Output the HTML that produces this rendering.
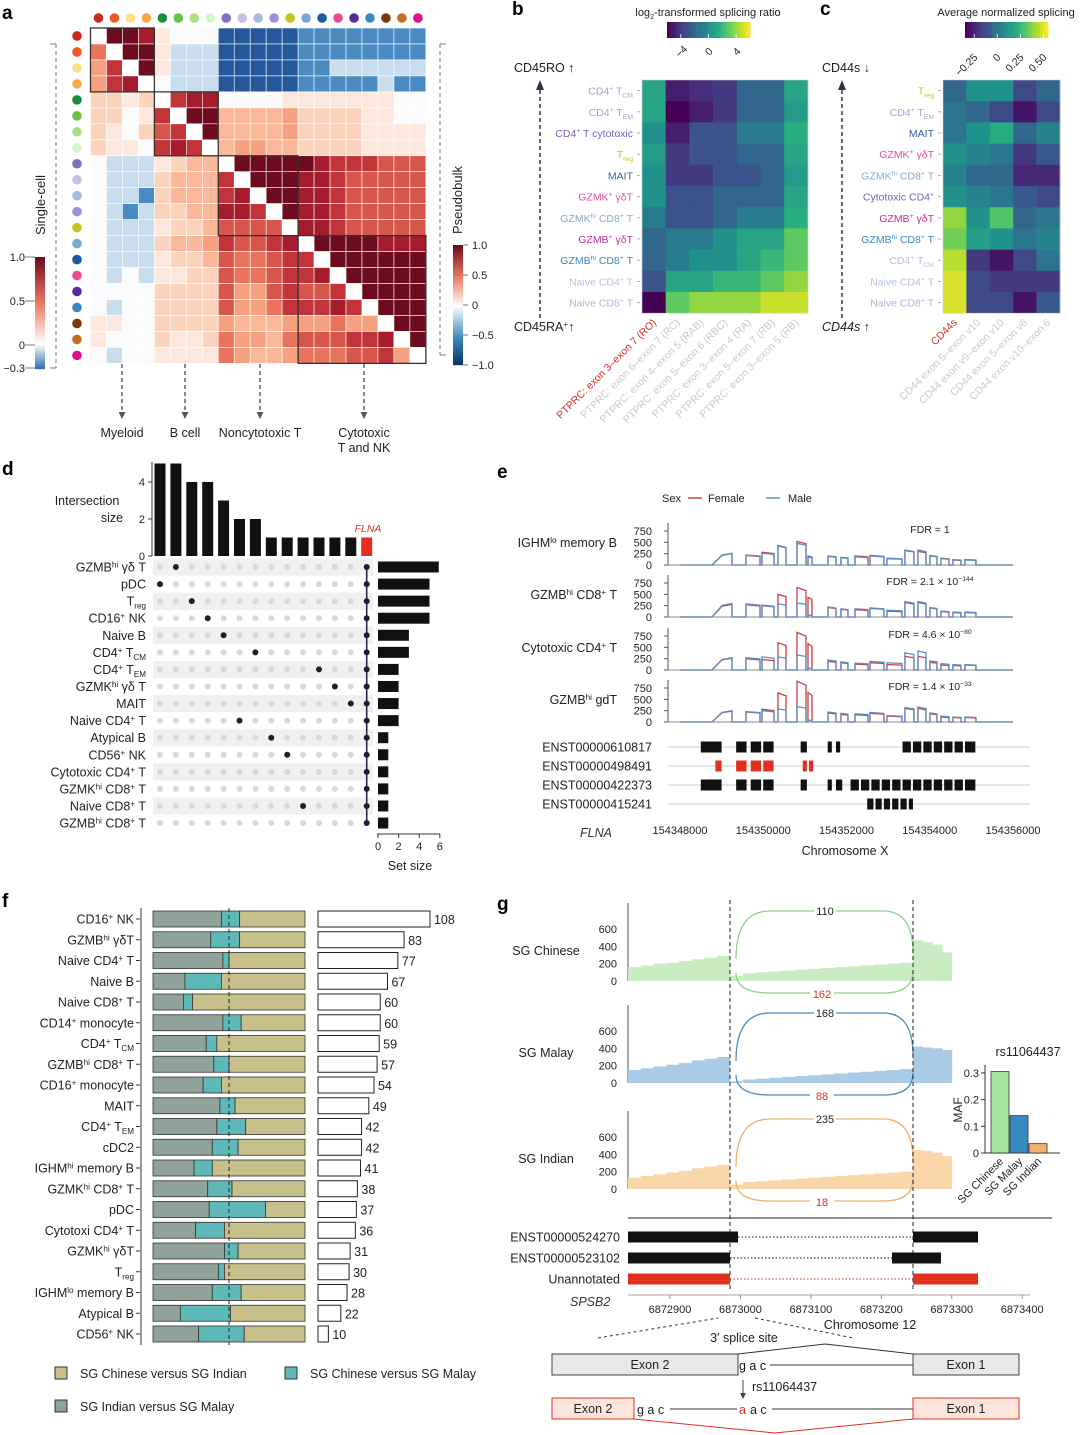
<!DOCTYPE html>
<html><head><meta charset="utf-8">
<style>
html,body{margin:0;padding:0;background:#fff;}
svg{display:block;font-family:"Liberation Sans",sans-serif;}
</style></head>
<body>
<svg id="fig" width="1080" height="1435" viewBox="0 0 1080 1435" xmlns="http://www.w3.org/2000/svg"></svg>
<script>
// ---------------- DATA ----------------
// panel a: correlation matrix (chars: z=-0.3,y=-0.2,x=-0.1,0-9 tenths, W=diagonal)
const aRows = [
"W9981000zzzzzyyyyyyyy",
"5W991xxxzzzzzyyyyyyyy",
"47W91xxxzzzzzyyxxxxxx",
"478W0xxxzzzzzyyyyyxyy",
"2212W7880000111111100",
"22017W993333422221100",
"210267W93333422221111",
"2110787W3443322221111",
"0xxx1233W999998777666",
"0xxx23337W99988766666",
"0xxy233378W9988766666",
"0xyx2233887W988766666",
"0xxx12236666W88766666",
"0xxx233476678W9999888",
"0xxx1223655677W999999",
"0x0x11226556778W99999",
"0000222264467667W9999",
"0x002222644577787W999",
"110022224333444544W99",
"1000211254435666778W9",
"0x001111543345556674W"
];
const aDotColors = ["#c8281e","#f05a22","#fde08a","#fda64a","#1a8a3c","#6cc24a","#a8e08a","#d8f5c8","#8070c0","#c8c0e8","#a8b8e0","#a090d8","#c8c020","#7aa8d0","#1f5aa0","#ec4a90","#5a2a9a","#3a88c0","#7a3a10","#c07020","#e0108a"];
const aGroups = [[0,4],[4,8],[8,13],[13,21]];

// panel b
const bRows = ["CD4^+^ T_CM_","CD4^+^ T_EM_","CD4^+^ T cytotoxic","T_reg_","MAIT","GZMK^+^ γδT","GZMK^hi^ CD8^+^ T","GZMB^+^ γδT","GZMB^hi^ CD8^+^ T","Naive CD4^+^ T","Naive CD8^+^ T"];
const bRowColors = ["#a99fd6","#a99fd6","#7b5cc0","#c8c020","#3a5aa8","#e050a0","#88aad0","#c030a0","#3a88c0","#b8c0e0","#a8b8e0"];
const bCols = ["PTPRC: exon 3–exon 7 (RO)","PTPRC: exon 6–exon 7 (RC)","PTPRC: exon 4–exon 5 (RAB)","PTPRC: exon 5–exon 6 (RBC)","PTPRC: exon 3–exon 4 (RA)","PTPRC: exon 5–exon 7 (RB)","PTPRC: exon 3–exon 5 (RB)"];
const bVals = [
[1,-5,-4.5,-4,-2,-2,1],
[1,-6,-5,-4,-2,-2,0.5],
[0,-5,-3,-3,-1,-1,1.5],
[0.5,-4,-3,-3,-2,-2,1],
[0,-4,-4,-3,-3,-2,0.5],
[0,-3,-3,-2,-2,-2,1],
[-1,-3,-3,-2,-1,-1,1.5],
[-2,-1,-1,0,1,1,3],
[-2,-1,0,0,1,2,3],
[-3,1,1,2,2,3,4],
[-6,3,4,4,4,5,5]];
const bTicks = [-4,0,4];

// panel c
const cRows = ["T_reg_","CD4^+^ T_EM_","MAIT","GZMK^+^ γδT","GZMK^hi^ CD8^+^ T","Cytotoxic CD4^+^","GZMB^+^ γδT","GZMB^hi^ CD8^+^ T","CD4^+^ T_CM_","Naive CD4^+^ T","Naive CD8^+^ T"];
const cRowColors = ["#c8c020","#a99fd6","#3a5aa8","#e050a0","#88aad0","#7b5cc0","#c030a0","#3a88c0","#b8c0e0","#b8c0e0","#a8b8e0"];
const cCols = ["CD44s","CD44 exon 5–exon v10","CD44 exon v9–exon v10","CD44 exon 5–exon v6","CD44 exon v10–exon 6"];
const cVals = [
[-0.05,0.1,0.1,-0.15,-0.05],
[0,-0.05,-0.15,-0.3,-0.15],
[0,0.1,0.2,-0.05,0.05],
[0.1,0.05,0,-0.2,-0.1],
[0.05,-0.05,-0.05,-0.25,-0.25],
[0.1,0.05,0,-0.1,-0.15],
[0.4,0.1,0.3,-0.05,0],
[0.35,0.15,0.1,0,0.05],
[0.45,-0.2,-0.3,-0.15,0],
[0.5,-0.15,-0.2,-0.2,-0.2],
[0.5,-0.15,-0.15,-0.3,-0.1]];
const cTicks = [-0.25,0,0.25,0.5];
const cTickLabels = ["-0.25","0","0.25","0.50"];

// panel d
const dSets = ["GZMB^hi^ γδ T","pDC","T_reg_","CD16^+^ NK","Naive B","CD4^+^ T_CM_","CD4^+^ T_EM_","GZMK^hi^ γδ T","MAIT","Naive CD4^+^ T","Atypical B","CD56^+^ NK","Cytotoxic CD4^+^ T","GZMK^hi^ CD8^+^ T","Naive CD8^+^ T","GZMB^hi^ CD8^+^ T"];
const dSetSize = [5.9,5,5,5,3,3,2,2,2,2,1,1,1,1,1,1];
const dInter = [5,5,4,4,3,2,2,1,1,1,1,1,1,1];
const dInterRow = [1,0,2,3,4,9,5,10,11,14,6,7,8,-1];
const dTicksY = [0,2,4];
const dTicksX = [0,2,4,6];

// panel e
const eExons = [[154348769,154349249],[154349585,154349922],[154349970,154350258],[154350354,154350546],[154350810,154351027],[154351075,154351171],[154351555,154351747],[154351867,154352035],[154352204,154352516],[154352564,154352900],[154352972,154353332],[154353404,154353620],[154353717,154353909],[154354005,154354173],[154354269,154354461],[154354557,154354749],[154354846,154355110]];
const eTracks = ["IGHM^lo^ memory B","GZMB^hi^ CD8^+^ T","Cytotoxic CD4^+^ T","GZMB^hi^ gdT"];
const eFDR = ["FDR = 1","FDR = 2.1 × 10^−144^","FDR = 4.6 × 10^−80^","FDR = 1.4 × 10^−33^"];
const eMale = [
[260,220,260,420,480,200,200,160,180,200,150,330,330,200,140,120,110],
[300,290,250,290,310,40,220,180,180,200,150,340,340,210,130,110,110],
[260,270,290,290,330,40,220,180,150,190,160,380,420,200,140,120,120],
[250,230,250,290,340,40,220,190,180,210,140,320,330,200,130,110,110]];
const eFemale = [
[250,210,280,430,520,180,190,170,200,210,140,320,300,210,150,110,120],
[280,270,260,500,650,430,210,170,160,190,130,320,320,200,120,100,100],
[270,250,230,600,830,580,190,160,130,160,120,300,300,170,110,100,110],
[240,220,280,640,900,650,200,170,160,190,130,300,300,180,110,100,100]];
const eYTicks = [0,250,500,750];
const eXTicks = [154348000,154350000,154352000,154354000,154356000];
const eTx = ["ENST00000610817","ENST00000498491","ENST00000422373","ENST00000415241"];
const eTxBlocks = [
[[0.5,1.0],[1.35,1.6],[1.7,1.95],[2.0,2.25],[2.9,3.05],[3.55,3.65],[3.75,3.85],[5.35,5.55],[5.6,5.8],[5.85,6.05],[6.1,6.3],[6.35,6.55],[6.6,6.8],[6.85,7.1]],
[[0.85,1.0],[1.35,1.6],[1.7,1.95],[2.0,2.25],[2.95,3.05],[3.1,3.2]],
[[0.5,1.0],[1.35,1.6],[1.7,1.95],[2.0,2.25],[2.9,3.05],[3.55,3.65],[3.75,3.9],[4.1,4.3],[4.35,4.55],[4.6,4.8],[4.85,5.05],[5.1,5.3],[5.35,5.55],[5.6,5.8],[5.85,6.05],[6.1,6.3],[6.35,6.55],[6.6,6.8],[6.85,7.1]],
[[4.5,4.65],[4.7,4.85],[4.9,5.05],[5.1,5.25],[5.3,5.45],[5.5,5.6]]];

// panel f
const fCats = ["CD16^+^ NK","GZMB^hi^ γδT","Naive CD4^+^ T","Naive B","Naive CD8^+^ T","CD14^+^ monocyte","CD4^+^ T_CM_","GZMB^hi^ CD8^+^ T","CD16^+^ monocyte","MAIT","CD4^+^ T_EM_","cDC2","IGHM^hi^ memory B","GZMK^hi^ CD8^+^ T","pDC","Cytotoxi CD4^+^ T","GZMK^hi^ γδT","T_reg_","IGHM^lo^ memory B","Atypical B","CD56^+^ NK"];
const fIndMal = [0.45,0.38,0.46,0.21,0.2,0.46,0.35,0.4,0.33,0.44,0.42,0.39,0.27,0.36,0.37,0.28,0.47,0.43,0.39,0.18,0.3];
const fChiMal = [0.12,0.19,0.04,0.24,0.06,0.12,0.07,0.1,0.12,0.1,0.19,0.17,0.12,0.16,0.37,0.19,0.09,0.04,0.19,0.33,0.3];
const fCounts = [108,83,77,67,60,60,59,57,54,49,42,42,41,38,37,36,31,30,28,22,10];

// panel g
const gPops = ["SG Chinese","SG Malay","SG Indian"];
const gPre = [[160,180,200,210,230,250,270,290],[150,170,190,210,230,260,280,300],[130,150,170,190,210,240,260,280]];
const gMid = [[60,90,100,110,120,130,140,150,160,170,180,190,200,210],[20,40,50,60,70,80,90,100,110,120,130,140,150,160],[50,80,90,100,110,120,130,140,150,160,170,180,190,200]];
const gPost = [[470,450,420,330],[420,410,400,380],[450,440,420,380]];
const gArcTop = [110,168,235];
const gArcBot = [162,88,18];
const gYTicks = [0,200,400,600];
const gMAF = [0.305,0.14,0.035];
const gMAFTicks = [0,0.1,0.2,0.3];
const gXTicks = [6872900,6873000,6873100,6873200,6873300,6873400];

// ---------------- HELPERS ----------------
const svg = document.getElementById('fig');
const NS = 'http://www.w3.org/2000/svg';
function mk(tag, attrs, name, parent){
  const el = document.createElementNS(NS, tag);
  for (const k in attrs) el.setAttribute(k, attrs[k]);
  
  
  (parent||svg).appendChild(el);
  return el;
}
function rich(s){
  let out='',cur=0;
  s.split(/(\^[^\^]*\^|_[^_]*_)/).forEach(seg=>{
    if(!seg) return;
    let t=0,fs=null,txt=seg;
    if(seg.length>1&&seg[0]=='^'&&seg[seg.length-1]=='^'){t=-4;fs='65%';txt=seg.slice(1,-1);}
    else if(seg.length>1&&seg[0]=='_'&&seg[seg.length-1]=='_'){t=3;fs='65%';txt=seg.slice(1,-1);}
    out+='<tspan dy="'+(t-cur)+'"'+(fs?' font-size="'+fs+'"':'')+'>'+txt+'</tspan>';
    cur=t;
  });
  return out;
}
function T(x,y,s,o,name){
  o=o||{};
  const a={x:x,y:y,'font-size':o.size||12,fill:o.fill||'#222','text-anchor':o.anchor||'start'};
  if(o.weight) a['font-weight']=o.weight;
  if(o.style) a['font-style']=o.style;
  if(o.rot!==undefined) a.transform='rotate('+o.rot+' '+x+' '+y+')';
  const el=mk('text',a,name||'label');
  el.innerHTML=rich(s);
  return el;
}
function L(x1,y1,x2,y2,st,w,dash,name){
  const a={x1:x1,y1:y1,x2:x2,y2:y2,stroke:st||'#333','stroke-width':w||1};
  if(dash) a['stroke-dasharray']=dash;
  return mk('line',a,name||'line');
}
function R(x,y,w,h,f,name,extra){
  const a={x:x,y:y,width:Math.max(0,w),height:Math.max(0,h),fill:f};
  if(extra) for(const k in extra) a[k]=extra[k];
  return mk('rect',a,name||'rect');
}
function lerpC(c1,c2,t){
  const p=c=>[parseInt(c.slice(1,3),16),parseInt(c.slice(3,5),16),parseInt(c.slice(5,7),16)];
  const a=p(c1),b=p(c2);
  return 'rgb('+a.map((v,i)=>Math.round(v+(b[i]-v)*t)).join(',')+')';
}
const VIR=["#440154","#472d7b","#3b528b","#2c728e","#21918c","#28ae80","#5ec962","#addc30","#fde725"];
function viridis(t){t=Math.max(0,Math.min(1,t));const s=t*(VIR.length-1);const i=Math.min(VIR.length-2,Math.floor(s));return lerpC(VIR[i],VIR[i+1],s-i);}
const aCmap={z:"#24589a",y:"#4a8cc2",x:"#c8deee","0":"#fbfbfd","1":"#fde8dd","2":"#fcd3bc","3":"#fbb799","4":"#f5a07f","5":"#e8745e","6":"#d6564b","7":"#c0343a","8":"#a51c2c","9":"#6d0c1f",W:"#ffffff"};

// ---------------- PANEL LETTERS ----------------
[["a",2,19],["b",512,15],["c",820,15],["d",2,475],["e",497,478],["f",2,907],["g",497,910]].forEach(p=>{
  T(p[1],p[2],p[0],{size:19,weight:'bold',fill:'#000'},'panel-letter-'+p[0]);
});

// ---------------- PANEL A ----------------
(function(){
  const x0=90.5,y0=28,cs=15.97,n=aDotColors.length;
  const g=mk('g',{},'heatmap-a');
  for(let r=0;r<n;r++){
    const row=aRows[r].replace(/ /g,'');
    for(let c=0;c<n;c++){
      const ch=row[c]||'0';
      mk('rect',{x:x0+c*cs,y:y0+r*cs,width:cs,height:cs,fill:aCmap[ch]||'#fff',stroke:'#fff','stroke-width':0.6},'heatmap-cell',g);
    }
  }
  aGroups.forEach((gr,i)=>{
    mk('rect',{x:x0+gr[0]*cs,y:y0+gr[0]*cs,width:(gr[1]-gr[0])*cs,height:(gr[1]-gr[0])*cs,fill:'none',stroke:'#333','stroke-width':1.3},'cluster-box');
  });
  aDotColors.forEach((c,i)=>{
    mk('circle',{cx:x0+cs*(i+0.5),cy:18,r:4.8,fill:c},'top-cell-dot');
    mk('circle',{cx:77,cy:y0+cs*(i+0.5),r:4.8,fill:c},'left-cell-dot');
  });
  L(56,44,56,368,'#777',1,'4,3','single-cell-bracket');
  L(50,44,56,44,'#777',1); L(50,368,56,368,'#777',1);
  L(440,44,440,355,'#777',1,'4,3','pseudobulk-bracket');
  L(440,44,446,44,'#777',1); L(440,355,446,355,'#777',1);
  T(45,205,'Single-cell',{size:13,anchor:'middle',rot:-90},'y-axis-title-single-cell');
  T(462,200,'Pseudobulk',{size:13,anchor:'middle',rot:-90},'y-axis-title-pseudobulk');
  const cb1=[['1.0',257,1],['0.5',301,0.5],['0',345,0],['−0.3',368,-0.3]];
  for(let i=0;i<56;i++){const v=1-i*(1.3/56);const y=257+i*2;
    const col=v>=0?(v>0.5?lerpC('#e8745e','#6d0c1f',(v-0.5)/0.5):lerpC('#ffffff','#e8745e',v/0.5)):lerpC('#ffffff','#2166ac',-v/0.3);
    R(35,y,10,2.2,col,'colorbar-single-cell-step');}
  cb1.forEach(t=>{T(25,t[1]+4,t[0],{size:11,anchor:'end'},'colorbar-tick-label');L(25,t[1],35,t[1],'#555',0.8);});
  for(let i=0;i<60;i++){const v=1-i*(2/60);const y=245+i*2;
    const col=v>=0?(v>0.5?lerpC('#e8745e','#6d0c1f',(v-0.5)/0.5):lerpC('#ffffff','#e8745e',v/0.5)):(v>-0.5?lerpC('#ffffff','#4393c3',-v/0.5):lerpC('#4393c3','#053061',(-v-0.5)/0.5));
    R(453,y,10,2.2,col,'colorbar-pseudobulk-step');}
  [['1.0',245],['0.5',275],['0',305],['−0.5',335],['−1.0',365]].forEach(t=>{T(472,t[1]+4,t[0],{size:11},'colorbar-tick-label');L(463,t[1],468,t[1],'#555',0.8);});
  [[122,'Myeloid'],[185,'B cell'],[260,'Noncytotoxic T'],[364,'Cytotoxic']].forEach(a=>{
    L(a[0],364,a[0],414,'#556',1.4,'4,3','cluster-arrow');
    mk('path',{d:'M'+(a[0]-3.5)+',412 L'+(a[0]+3.5)+',412 L'+a[0]+',419 Z',fill:'#556'},'arrow-head');
    T(a[0],437,a[1],{size:12.5,anchor:'middle'},'cluster-label');
  });
  T(364,452,'T and NK',{size:12.5,anchor:'middle'},'cluster-label');
})();

// ---------------- PANEL B / C heatmaps ----------------
function heat(x0,y0,cw,rh,vals,rows,rowCols,cols,vmin,vmax,nm,firstRed){
  vals.forEach((row,r)=>row.forEach((v,c)=>{
    R(x0+c*cw,y0+r*rh,cw+0.3,rh+0.3,viridis((v-vmin)/(vmax-vmin)),nm+'-cell');
  }));
  mk('rect',{x:x0,y:y0,width:cw*vals[0].length,height:rh*vals.length,fill:'none',stroke:'#ccc','stroke-width':0.6},nm+'-frame');
  rows.forEach((s,r)=>{T(x0-9,y0+r*rh+rh/2+4,s,{size:10.5,anchor:'end',fill:rowCols[r]},nm+'-row-label');L(x0-5,y0+r*rh+rh/2,x0-2,y0+r*rh+rh/2,'#999',0.8);});
  cols.forEach((s,c)=>{const x=x0+c*cw+cw/2+3,y=y0+rh*vals.length+10;
    T(x,y,s,{size:10.5,anchor:'end',rot:-45,fill:(c==0&&firstRed)?'#d03020':'#c8c8d0'},nm+'-col-label');});
}
heat(642,80,23.7,21.2,bVals,bRows,bRowColors,bCols,-6,6,'heatmap-b',true);
heat(943,80,23.4,21.2,cVals,cRows,cRowColors,cCols,-0.35,0.55,'heatmap-c',true);
for(let i=0;i<40;i++){R(667+i*2.08,22,2.3,16,viridis(i/39),'colorbar-b-step');R(965+i*2.08,22,2.3,16,viridis(i/39),'colorbar-c-step');}
bTicks.forEach(t=>{const x=667+(t+6)/12*83;L(x,34,x,38,'#fff',0.8);T(x+3,54,String(t).replace('-','−'),{size:10.5,anchor:'middle',rot:-45},'colorbar-b-tick');});
cTicks.forEach((t,i)=>{const x=965+(t+0.35)/0.9*83;L(x,34,x,38,'#fff',0.8);T(x+4,58,cTickLabels[i].replace('-','−'),{size:10.5,anchor:'end',rot:-45},'colorbar-c-tick');});
T(708,16,'log_2_-transformed splicing ratio',{size:11,anchor:'middle'},'colorbar-b-title');
T(1006,16,'Average normalized splicing',{size:11,anchor:'middle'},'colorbar-c-title');
T(514,72,'CD45RO ↑',{size:12.5},'axis-label-cd45ro');
T(514,331,'CD45RA^+^↑',{size:12.5},'axis-label-cd45ra');
L(540,318,540,88,'#334',1.5,'4,3','cd45-arrow');
mk('path',{d:'M536,90 L544,90 L540,80 Z',fill:'#334'},'arrow-head');
T(822,72,'CD44s ↓',{size:12.5},'axis-label-cd44s-top');
T(822,331,'CD44s ↑',{size:12.5,style:'italic'},'axis-label-cd44s-bottom');
L(842,318,842,88,'#334',1.5,'4,3','cd44-arrow');
mk('path',{d:'M838,90 L846,90 L842,80 Z',fill:'#334'},'arrow-head');

// ---------------- PANEL D ----------------
(function(){
  const cx0=160,dcx=15.9,ry0=567,dry=17.07;
  const yb=556,ys=18.5,xs0=378,xs=10.3;
  dSets.forEach((s,r)=>{
    if(r%2==0) R(153,ry0+r*dry-8.5,220,dry,'#f0f0f0','matrix-stripe');
  });
  dInter.forEach((v,i)=>{
    const x=cx0+i*dcx;
    R(x-5.5,yb-v*ys,11,v*ys,i==dInter.length-1?'#e03020':'#111','intersection-bar');
    dSets.forEach((s,r)=>{
      const filled=dInterRow[i]==r||dInterRow[i]==-1;
      mk('circle',{cx:x,cy:ry0+r*dry,r:3,fill:filled?'#1c1c3c':'#d8d8d8'},'matrix-dot');
    });
  });
  const lx=cx0+(dInter.length-1)*dcx;
  L(lx,ry0,lx,ry0+(dSets.length-1)*dry,'#1c1c3c',1.5,null,'flna-connector');
  L(152,462,152,556,'#333',1,null,'intersection-y-axis');
  dTicksY.forEach(t=>{T(145,yb-t*ys+4,String(t),{size:11,anchor:'end'},'y-tick-label');L(148,yb-t*ys,152,yb-t*ys,'#333');});
  T(87,505,'Intersection',{size:12.5,anchor:'middle'},'y-axis-title');
  T(112,522,'size',{size:12.5,anchor:'middle'},'y-axis-title');
  T(368,532,'FLNA',{size:10.5,anchor:'middle',fill:'#e03020',style:'italic'},'flna-label');
  dSets.forEach((s,r)=>{
    T(146,ry0+r*dry+4.5,s,{size:12.5,anchor:'end'},'set-label');
    R(xs0,ry0+r*dry-5.5,dSetSize[r]*xs,11,'#111','set-size-bar');
  });
  L(377,834,440,834,'#333',1,null,'set-size-x-axis');
  dTicksX.forEach(t=>{L(xs0+t*xs,834,xs0+t*xs,838,'#333');T(xs0+t*xs,850,String(t),{size:11,anchor:'middle'},'x-tick-label');});
  T(410,870,'Set size',{size:12.5,anchor:'middle'},'x-axis-title');
})();

// ---------------- PANEL E ----------------
(function(){
  const gx=b=>680+(b-154348000)*333/8000;
  const base=[565,617,670,722], ys=34/750;
  T(662,502,'Sex',{size:11},'legend-title');
  L(688,498,702,498,'#d04040',1.5,null,'legend-female-line');T(708,502,'Female',{size:11},'legend-female');
  L(766,498,780,498,'#5b8ec4',1.5,null,'legend-male-line');T(788,502,'Male',{size:11},'legend-male');
  eTracks.forEach((nm,t)=>{
    const y0=base[t];
    T(617,y0-18,nm,{size:12.5,anchor:'end'},'track-label');
    L(668,y0-42,668,y0,'#555',1,null,'track-y-axis');
    L(668,y0,1010,y0,'#888',1,null,'track-baseline');
    eYTicks.forEach(v=>{T(652,y0-v*ys+4,String(v),{size:11,anchor:'end'},'y-tick-label');L(664,y0-v*ys,668,y0-v*ys,'#555');});
    T(930,y0-32,eFDR[t],{size:10.5,anchor:'middle'},'fdr-label');
    [[eFemale,'#d04040','female-coverage'],[eMale,'#5b8ec4','male-coverage']].forEach(s=>{
      let d='M'+gx(154348000)+','+y0;
      eExons.forEach((e,i)=>{const h=s[0][t][i]*ys;
        if(i==0){d+=' L'+gx(e[0])+','+y0+' L'+(gx(e[0])+10)+','+(y0-h*0.85)+' L'+gx(e[1])+','+(y0-h)+' L'+gx(e[1])+','+y0;}
        else d+=' L'+gx(e[0])+','+y0+' L'+gx(e[0])+','+(y0-h)+' L'+gx(e[1])+','+(y0-h*0.9)+' L'+gx(e[1])+','+y0;});
      d+=' L'+gx(154356000)+','+y0;
      mk('path',{d:d,fill:'none',stroke:s[1],'stroke-width':1.3},s[2]);
    });
  });
  eTx.forEach((nm,i)=>{
    const y=747+i*19;
    T(652,y+4.5,nm,{size:12.5,anchor:'end'},'transcript-label');
    L(668,y,1030,y,'#ccc',1,null,'transcript-line');
    eTxBlocks[i].forEach(b=>R(680+b[0]*41.6,y-5.5,(b[1]-b[0])*41.6,11,i==1?'#e03020':'#111','transcript-exon'));
  });
  T(580,837,'FLNA',{size:12.5,style:'italic',fill:'#333'},'gene-label');
  eXTicks.forEach(v=>{T(gx(v),834,String(v),{size:11,anchor:'middle'},'x-tick-label');});
  T(845,855,'Chromosome X',{size:12.5,anchor:'middle'},'x-axis-title');
})();

// ---------------- PANEL F ----------------
(function(){
  const y0=919,dy=20.75,x0=153,w=152,cx0=318,cs=1.037;
  fCats.forEach((c,i)=>{
    const y=y0+i*dy;
    T(134,y+4.5,c,{size:12.5,anchor:'end'},'category-label');
    L(136,y,140,y,'#333');
    const a=fIndMal[i]*w,b=fChiMal[i]*w;
    R(x0,y-8,a,16,'#8fa39a','bar-indian-vs-malay',{stroke:'#333','stroke-width':0.8});
    R(x0+a,y-8,b,16,'#5fb8b8','bar-chinese-vs-malay',{stroke:'#333','stroke-width':0.8});
    R(x0+a+b,y-8,w-a-b,16,'#c8c08a','bar-chinese-vs-indian',{stroke:'#333','stroke-width':0.8});
    R(cx0,y-8,fCounts[i]*cs,16,'#fff','count-bar',{stroke:'#222','stroke-width':1});
    T(cx0+fCounts[i]*cs+4,y+5,String(fCounts[i]),{size:12.5},'count-label');
  });
  L(141,908,141,1345,'#333',1,null,'y-axis');
  L(229,908,229,1345,'#222',1,'4,3','half-line');
  R(55,1367,12,12,'#c8c08a','legend-swatch',{stroke:'#333'});T(80,1378,'SG Chinese versus SG Indian',{size:12.5},'legend-label');
  R(285,1367,12,12,'#5fb8b8','legend-swatch',{stroke:'#333'});T(310,1378,'SG Chinese versus SG Malay',{size:12.5},'legend-label');
  R(55,1400,12,12,'#8fa39a','legend-swatch',{stroke:'#333'});T(80,1411,'SG Indian versus SG Malay',{size:12.5},'legend-label');
})();

// ---------------- PANEL G ----------------
(function(){
  const bases=[981,1083,1189], ys=52/600;
  const fills=['#c9ecc3','#a9cbe6','#fad7a8'], arcs=['#8fd48a','#4a8fc0','#f0b070'];
  const xA=628,xS1=730,xS2=913,xE=952;
  gPops.forEach((p,k)=>{
    const y0=bases[k];
    T(546,y0-26,p,{size:12.5,anchor:'middle'},'population-label');
    L(628,y0-78,628,y0,'#555',1,null,'y-axis');
    gYTicks.forEach(v=>{T(617,y0-v*ys+4,String(v),{size:11,anchor:'end'},'y-tick-label');});
    const segs=[[xA,xS1,gPre[k]],[xS1,xS2,gMid[k]],[xS2,xE,gPost[k]]];
    segs.forEach(s=>{const bw=(s[1]-s[0])/s[2].length;
      s[2].forEach((v,i)=>R(s[0]+i*bw,y0-v*ys,bw+0.2,v*ys,fills[k],'coverage-bin'));});
    const top=y0-70, bot=y0+12;
    mk('path',{d:'M'+(xS1+6)+','+(y0-22)+' Q'+(xS1+6)+','+top+' '+(xS1+40)+','+top+' L'+(xS2-30)+','+top+' Q'+xS2+','+top+' '+xS2+','+(y0-28),fill:'none',stroke:arcs[k],'stroke-width':1.3},'sashimi-arc-top');
    mk('path',{d:'M'+(xS1+6)+','+(y0-8)+' Q'+(xS1+6)+','+bot+' '+(xS1+40)+','+bot+' L'+(xS2-30)+','+bot+' Q'+xS2+','+bot+' '+xS2+','+(y0-10),fill:'none',stroke:arcs[k],'stroke-width':1.3},'sashimi-arc-bottom');
    R(814,top-6,22,11,'#fff','arc-label-bg');
    T(825,top+4,String(gArcTop[k]),{size:11,anchor:'middle'},'arc-count-top');
    R(810,bot-5,24,11,'#fff','arc-label-bg');
    T(822,bot+5,String(gArcBot[k]),{size:11,anchor:'middle',fill:'#e03020'},'arc-count-bottom');
  });
  L(730,900,730,1290,'#222',1,'4,3','splice-line');
  L(913,900,913,1290,'#222',1,'4,3','splice-line');
  const mb=1153,ms=267;
  T(1028,1056,'rs11064437',{size:12.5,anchor:'middle'},'maf-title');
  L(985,1065,985,1153,'#333',1,null,'maf-y-axis');L(985,1153,1060,1153,'#333',1,null,'maf-x-axis');
  gMAFTicks.forEach(t=>{T(979,mb-t*ms+4,String(t),{size:11,anchor:'end'},'maf-tick');L(981,mb-t*ms,985,mb-t*ms,'#333');});
  T(962,1110,'MAF',{size:12,anchor:'middle',rot:-90},'maf-y-title');
  const mcols=['#a6e3a1','#3a88c0','#f0b070'];
  gMAF.forEach((v,i)=>{const x=1000+i*19;
    R(x-9,mb-v*ms,18,v*ms,mcols[i],'maf-bar',{stroke:'#333','stroke-width':0.8});
    T(x+4,1162,gPops[i],{size:11,anchor:'end',rot:-45},'maf-x-label');});
  L(628,1218,1052,1218,'#222',1,null,'separator');
  const gx=b=>670+(b-6872900)*0.7044;
  const tx=[['ENST00000524270',[[628,738],[913,978]],'#111'],['ENST00000523102',[[628,730],[892,941]],'#111'],['Unannotated',[[628,730],[913,978]],'#e03020']];
  tx.forEach((t,i)=>{const y=1237+i*21;
    T(620,y+4.5,t[0],{size:12.5,anchor:'end'},'transcript-label');
    L(t[1][0][1],y,t[1][1][0],y,t[2],1,'1.5,2','intron-line');
    t[1].forEach(b=>R(b[0],y-5.5,b[1]-b[0],11,t[2],'transcript-exon'));});
  T(570,1306,'SPSB2',{size:12.5,style:'italic',fill:'#333'},'gene-label');
  L(628,1295,1030,1295,'#888',0.8,null,'x-axis');
  gXTicks.forEach(v=>{L(gx(v),1295,gx(v),1299,'#888');T(gx(v),1313,String(v),{size:11,anchor:'middle'},'x-tick-label');});
  T(870,1329,'Chromosome 12',{size:12.5,anchor:'middle'},'x-axis-title');
  L(598,1338,718,1318,'#333',1,'3,3','zoom-line');L(755,1318,853,1338,'#333',1,'3,3','zoom-line');
  T(744,1342,'3′ splice site',{size:12.5,anchor:'middle'},'splice-site-label');
  R(552,1354,186,21,'#e8e8e8','exon2-ref',{stroke:'#444','stroke-width':1});
  T(650,1369,'Exon 2',{size:12.5,anchor:'middle'},'exon-label');
  T(739,1370,'g a c',{size:12.5,fill:'#111'},'sequence-ref');
  L(770,1365,913,1365,'#333',1,null,'intron-ref');
  R(913,1354,106,21,'#e8e8e8','exon1-ref',{stroke:'#444','stroke-width':1});
  T(966,1369,'Exon 1',{size:12.5,anchor:'middle'},'exon-label');
  mk('polyline',{points:'738,1354 825,1344 913,1354',fill:'none',stroke:'#333','stroke-width':1},'splice-connector');
  L(743,1380,743,1394,'#445',1,null,'snp-arrow');
  mk('path',{d:'M740,1393 L746,1393 L743,1399 Z',fill:'#445'},'arrow-head');
  T(752,1391,'rs11064437',{size:12.5},'snp-label');
  R(552,1398,82,21,'#fde4dc','exon2-alt',{stroke:'#e03020','stroke-width':1});
  T(593,1413,'Exon 2',{size:12.5,anchor:'middle'},'exon-label');
  T(637,1414,'g a c',{size:12.5},'sequence-alt');
  L(670,1409,737,1409,'#333',1,null,'intron-alt');
  T(739,1414,'a',{size:12.5,fill:'#e03020'},'snp-base');
  T(750,1414,'a c',{size:12.5},'sequence-alt');
  L(772,1409,913,1409,'#333',1,null,'intron-alt');
  R(913,1398,106,21,'#fde4dc','exon1-alt',{stroke:'#e03020','stroke-width':1});
  T(966,1413,'Exon 1',{size:12.5,anchor:'middle'},'exon-label');
  mk('polyline',{points:'634,1419 775,1433 913,1419',fill:'none',stroke:'#e03020','stroke-width':1},'splice-connector-alt');
})();
</script>
</body></html>
